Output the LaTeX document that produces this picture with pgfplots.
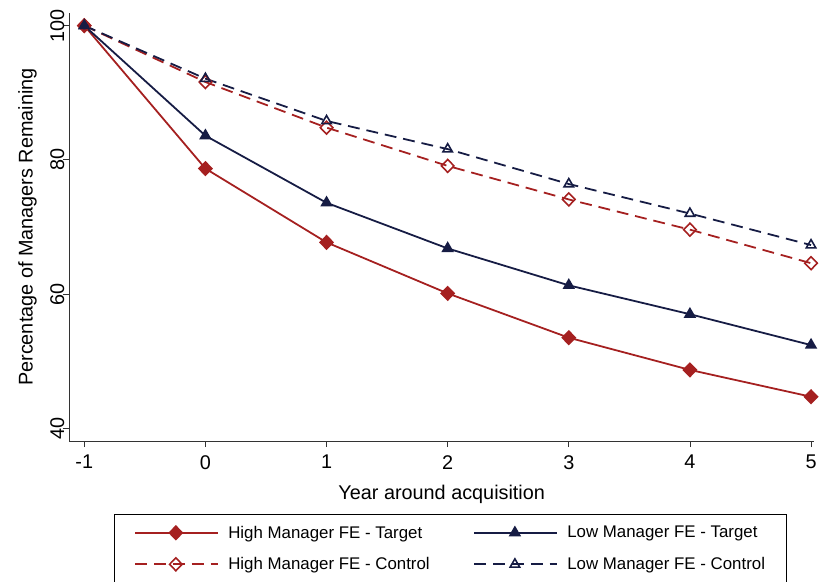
\documentclass[border=0pt]{standalone}
\usepackage{pgfplots}
\pgfplotsset{compat=1.18}
\usepackage{fontspec}
\setmainfont{Liberation Sans}
\definecolor{sred}{RGB}{165,32,32}
\definecolor{snavy}{RGB}{22,28,68}
\begin{document}
\begin{tikzpicture}
\begin{axis}[
  anchor=south west, at={(0pt,0pt)},
  scale only axis, width=751pt, height=432pt,
  xmin=-1.123, xmax=5.025, ymin=38.07, ymax=101.9,
  axis lines=left, axis line style={-, line width=0.8pt, black!80},
  tick align=outside, major tick length=6pt, tick style={black!80, line width=0.8pt},
  xtick={-1,0,1,2,3,4,5}, ytick={40,60,80,100},
  /pgf/number format/assume math mode=true,
  ticklabel style={font=\fontsize{20}{22}\selectfont},
  yticklabel style={xshift=3pt, rotate=90, anchor=south, inner sep=2pt},
  xticklabel style={inner sep=3pt, yshift=-5pt},
  xlabel={Year around acquisition}, ylabel={Percentage of Managers Remaining},
  label style={font=\fontsize{20}{22}\selectfont},
  xlabel style={yshift=-9pt},
  ylabel style={yshift=8pt},
  clip=false,
  legend columns=2,
  legend style={at={(0.512,-0.169)}, anchor=north, draw=black, line width=0.8pt,
    font=\fontsize{17}{20}\selectfont, inner xsep=20pt, inner ysep=10pt,
    /tikz/every odd column/.append style={column sep=8pt},
    /tikz/every even column/.append style={column sep=42pt},
    row sep=14pt},
  legend cell align=left,
  legend image code/.code={\draw[line width=1.8pt, mark repeat=2, mark phase=2] plot coordinates {(0pt,0pt) (41pt,0pt) (83pt,0pt)};},
]
\addplot[color=sred, line width=1.8pt, mark=diamond*, mark size=6.5pt, mark options={solid, fill=sred, xscale=1.3}]
  coordinates {(-1,100) (0,78.7) (1,67.7) (2,60.1) (3,53.5) (4,48.7) (5,44.7)};
\addlegendentry{High Manager FE - Target}
\addplot[color=snavy, line width=1.8pt, mark=triangle*, mark size=5.5pt, mark options={solid, fill=snavy}]
  coordinates {(-1,100) (0,83.6) (1,73.6) (2,66.8) (3,61.3) (4,57.0) (5,52.4)};
\addlegendentry{Low Manager FE - Target}
\addplot[color=sred, line width=1.8pt, dash pattern=on 12pt off 7pt, mark=diamond, mark size=6.5pt, mark options={solid, fill=white, line width=1.6pt, xscale=1.3}]
  coordinates {(-1,100) (0,91.6) (1,84.8) (2,79.1) (3,74.1) (4,69.6) (5,64.6)};
\addlegendentry{High Manager FE - Control}
\addplot[color=snavy, line width=1.8pt, dash pattern=on 12pt off 7pt, mark=triangle, mark size=5.5pt, mark options={solid, line width=1.6pt}]
  coordinates {(-1,100) (0,92.1) (1,85.8) (2,81.6) (3,76.4) (4,72.0) (5,67.3)};
\addlegendentry{Low Manager FE - Control}
\end{axis}
\pgfresetboundingbox
\useasboundingbox (-70pt,-141pt) rectangle (758pt,445pt);
\end{tikzpicture}
\end{document}
